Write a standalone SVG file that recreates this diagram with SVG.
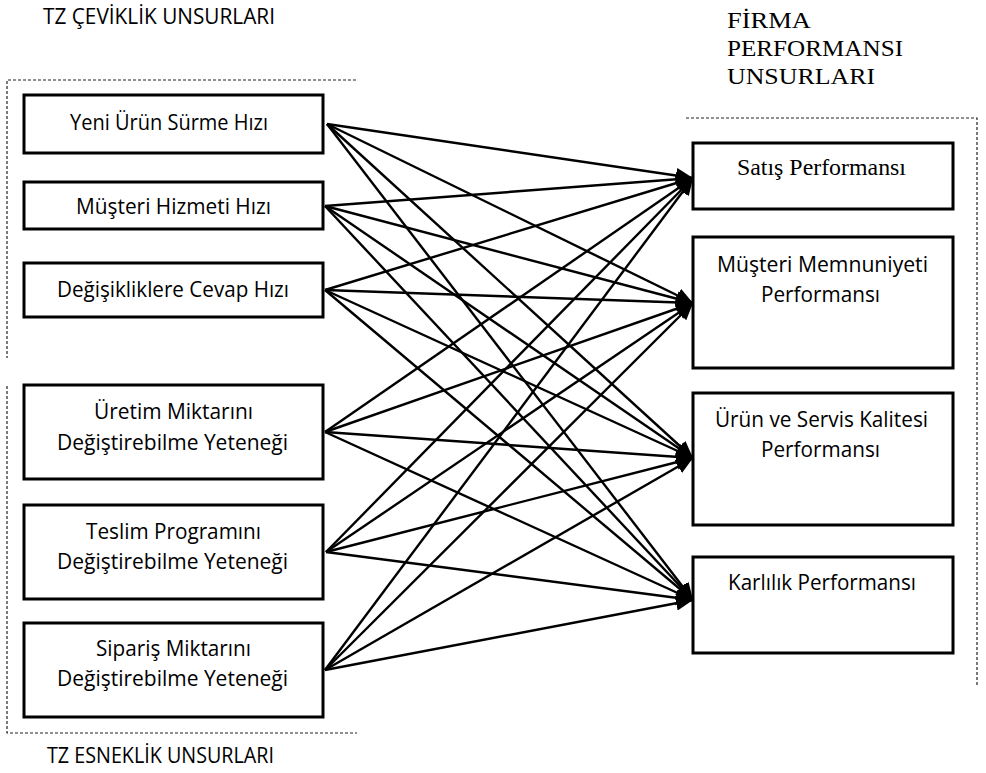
<svg xmlns="http://www.w3.org/2000/svg" width="986" height="773" viewBox="0 0 986 773">
<style>
.box{fill:#fff;stroke:#000;stroke-width:3}
.dash{fill:none;stroke:#222;stroke-width:1.2;stroke-dasharray:3,2}
.sans{font-family:"Open Sans","Noto Sans","Liberation Sans",sans-serif;font-size:21.5px;fill:#000}
.serif{font-family:"Liberation Serif","Times New Roman",serif;font-size:24px;fill:#000}
.conn line{stroke:#000;stroke-width:2.4;marker-end:url(#ah)}
</style>
<defs>
<marker id="ah" markerUnits="userSpaceOnUse" markerWidth="18" markerHeight="16" refX="17" refY="7.5" orient="auto">
<path d="M0,0 L17,7.5 L0,15 Z" fill="#000"/>
</marker>
</defs>
<rect width="986" height="773" fill="#fff"/>
<g id="frames">
<path class="dash" d="M356,80 H7 V358"/>
<path class="dash" d="M7,386 V733 H357"/>
<path class="dash" d="M686,118 H977 V685"/>
</g>
<g id="titles">
<text class="sans" x="43" y="24" textLength="232" lengthAdjust="spacingAndGlyphs">TZ ÇEVİKLİK UNSURLARI</text>
<text class="sans" x="47" y="763" textLength="227" lengthAdjust="spacingAndGlyphs">TZ ESNEKLİK UNSURLARI</text>
<text class="serif" x="727" y="28" textLength="84" lengthAdjust="spacingAndGlyphs">FİRMA</text>
<text class="serif" x="727" y="56" textLength="176" lengthAdjust="spacingAndGlyphs">PERFORMANSI</text>
<text class="serif" x="727" y="84" textLength="148" lengthAdjust="spacingAndGlyphs">UNSURLARI</text>
</g>
<g id="connectors" class="conn">
<line x1="327" y1="124" x2="693" y2="178"/>
<line x1="327" y1="124" x2="693" y2="303"/>
<line x1="327" y1="124" x2="693" y2="458"/>
<line x1="327" y1="124" x2="693" y2="600"/>
<line x1="325" y1="206" x2="693" y2="178"/>
<line x1="325" y1="206" x2="693" y2="303"/>
<line x1="325" y1="206" x2="693" y2="458"/>
<line x1="325" y1="206" x2="693" y2="600"/>
<line x1="325" y1="290" x2="693" y2="178"/>
<line x1="325" y1="290" x2="693" y2="303"/>
<line x1="325" y1="290" x2="693" y2="458"/>
<line x1="325" y1="290" x2="693" y2="600"/>
<line x1="325" y1="432" x2="693" y2="178"/>
<line x1="325" y1="432" x2="693" y2="303"/>
<line x1="325" y1="432" x2="693" y2="458"/>
<line x1="325" y1="432" x2="693" y2="600"/>
<line x1="326" y1="552" x2="693" y2="178"/>
<line x1="326" y1="552" x2="693" y2="303"/>
<line x1="326" y1="552" x2="693" y2="458"/>
<line x1="326" y1="552" x2="693" y2="600"/>
<line x1="325" y1="670" x2="693" y2="178"/>
<line x1="325" y1="670" x2="693" y2="303"/>
<line x1="325" y1="670" x2="693" y2="458"/>
<line x1="325" y1="670" x2="693" y2="600"/>
</g>
<g id="n1"><rect class="box" x="24" y="95" width="299" height="58"/>
<text class="sans" x="70" y="130" textLength="198" lengthAdjust="spacingAndGlyphs">Yeni Ürün Sürme Hızı</text></g>
<g id="n2"><rect class="box" x="24" y="182" width="299" height="47"/>
<text class="sans" x="76" y="214" textLength="195" lengthAdjust="spacingAndGlyphs">Müşteri Hizmeti Hızı</text></g>
<g id="n3"><rect class="box" x="24" y="263" width="299" height="54"/>
<text class="sans" x="57" y="297" textLength="232" lengthAdjust="spacingAndGlyphs">Değişikliklere Cevap Hızı</text></g>
<g id="n4"><rect class="box" x="24" y="385" width="299" height="94"/>
<text class="sans" x="94" y="419" textLength="159" lengthAdjust="spacingAndGlyphs">Üretim Miktarını</text>
<text class="sans" x="57" y="450" textLength="231" lengthAdjust="spacingAndGlyphs">Değiştirebilme Yeteneği</text></g>
<g id="n5"><rect class="box" x="24" y="505" width="299" height="94"/>
<text class="sans" x="86" y="539" textLength="175" lengthAdjust="spacingAndGlyphs">Teslim Programını</text>
<text class="sans" x="57" y="569" textLength="231" lengthAdjust="spacingAndGlyphs">Değiştirebilme Yeteneği</text></g>
<g id="n6"><rect class="box" x="24" y="623" width="299" height="94"/>
<text class="sans" x="96" y="656" textLength="155" lengthAdjust="spacingAndGlyphs">Sipariş Miktarını</text>
<text class="sans" x="57" y="686" textLength="231" lengthAdjust="spacingAndGlyphs">Değiştirebilme Yeteneği</text></g>
<g id="r1"><rect class="box" x="693" y="143" width="260" height="66"/>
<text class="serif" x="737" y="175" textLength="169" lengthAdjust="spacingAndGlyphs">Satış Performansı</text></g>
<g id="r2"><rect class="box" x="693" y="237" width="260" height="131"/>
<text class="sans" x="717" y="272" textLength="211" lengthAdjust="spacingAndGlyphs">Müşteri Memnuniyeti</text>
<text class="sans" x="761" y="302" textLength="119" lengthAdjust="spacingAndGlyphs">Performansı</text></g>
<g id="r3"><rect class="box" x="693" y="393" width="260" height="132"/>
<text class="sans" x="715" y="427" textLength="213" lengthAdjust="spacingAndGlyphs">Ürün ve Servis Kalitesi</text>
<text class="sans" x="761" y="457" textLength="119" lengthAdjust="spacingAndGlyphs">Performansı</text></g>
<g id="r4"><rect class="box" x="693" y="557" width="260" height="96"/>
<text class="sans" x="728" y="590" textLength="188" lengthAdjust="spacingAndGlyphs">Karlılık Performansı</text></g>
</svg>
